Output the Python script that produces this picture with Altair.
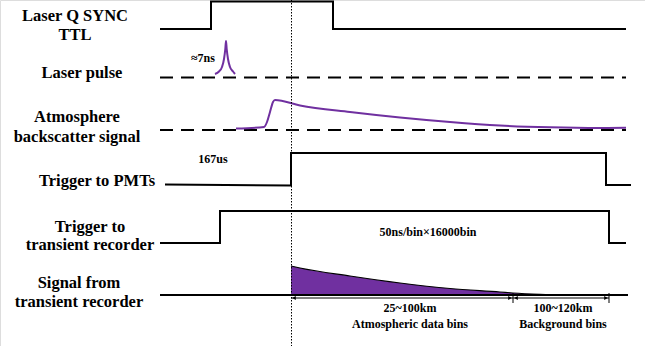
import altair as alt
import pandas as pd

W, H = 645, 346
FONT = "Times New Roman"
FONT2 = "serif"
PURPLE = "#7030A0"

# ---- waveform vertices (diagram units: x = time axis, y = row level, downwards) ----
ttl_x = [160, 211, 211, 333, 333, 626]
ttl_y = [29, 29, 1.5, 1.5, 29, 29]

pmt_x = [165, 291, 291, 606, 606, 631]
pmt_y = [184.6, 185.4, 153, 153, 185, 185]

rec_x = [160, 220, 220, 609, 609, 626]
rec_y = [243, 243, 211, 211, 243, 243]

sig_base_x = [160, 628]
sig_base_y = [295, 295]

# dashed reference levels for the optical rows
ref_x0 = [160, 160]
ref_x1 = [626, 626]
ref_y = [77.5, 130]

# laser pulse (~7 ns)
pulse_x = [215, 219, 222, 224, 225.3, 226, 226.7, 228, 230, 233, 235]
pulse_y = [74, 71.5, 67, 59, 49, 41, 49, 59, 67, 71.5, 74]

# atmosphere backscatter signal
atm_x = [236, 264, 267, 270, 273, 275, 300, 350, 400, 450, 500, 550, 600, 626]
atm_y = [128.5, 127, 122, 112, 102, 100, 105.5, 112, 117.5, 122, 125.5, 127.3, 128, 127.8]

# recorded signal envelope
rec_sig_x = [291, 300, 350, 400, 450, 500, 513, 540, 570]
rec_sig_y = [266, 268, 276, 283, 288.5, 292, 293, 294.3, 295]

# trigger time marker
marker_x = 291.5

# range bins
bin_edges = [291, 513, 609]
dim_y = 298

def trace(name, xs, ys):
    return pd.DataFrame({"x": xs, "y": ys, "seg": name, "i": range(len(xs))})

xs = alt.Scale(domain=[0, W], range=[0, W], nice=False, zero=False)
ys = alt.Scale(domain=[0, H], range=[0, H], nice=False, zero=False)
X = lambda f="x": alt.X(f"{f}:Q", scale=xs, axis=None)
Y = lambda f="y": alt.Y(f"{f}:Q", scale=ys, axis=None)

steps = pd.concat([
    trace("ttl", ttl_x, ttl_y),
    trace("pmt", pmt_x, pmt_y),
    trace("rec", rec_x, rec_y),
    trace("base", sig_base_x, sig_base_y),
])
step_layer = alt.Chart(steps).mark_line(color="black", strokeWidth=2, strokeCap="butt", strokeJoin="miter").encode(
    x=X(), y=Y(), detail="seg:N", order="i:Q")

refs = pd.DataFrame({"x": ref_x0, "x2": ref_x1, "y": ref_y})
ref_layer = alt.Chart(refs).mark_rule(color="black", strokeWidth=2, strokeDash=[13, 8]).encode(
    x=X(), x2="x2:Q", y=Y())

optic = pd.concat([trace("pulse", pulse_x, pulse_y), trace("atm", atm_x, atm_y)])
optic_layer = alt.Chart(optic).mark_line(color=PURPLE, strokeWidth=2, interpolate="monotone").encode(
    x=X(), y=Y(), detail="seg:N", order="i:Q")

env = pd.DataFrame({"x": rec_sig_x, "y": rec_sig_y, "y2": [295] * len(rec_sig_x)})
area_layer = alt.Chart(env).mark_area(color=PURPLE, opacity=1, interpolate="monotone").encode(
    x=X(), y=Y(), y2="y2:Q")
env_edge = alt.Chart(env).mark_line(color="black", strokeWidth=1.2, interpolate="monotone").encode(
    x=X(), y=Y())

marker = pd.DataFrame({"x": [marker_x], "y": [0], "y2": [H]})
marker_layer = alt.Chart(marker).mark_rule(color="black", strokeWidth=1, strokeDash=[1.5, 1.5]).encode(
    x=X(), y=Y(), y2="y2:Q")

dim = pd.DataFrame({"x": [bin_edges[0]], "x2": [bin_edges[-1]], "y": [dim_y]})
dim_layer = alt.Chart(dim).mark_rule(color="black", strokeWidth=1).encode(x=X(), x2="x2:Q", y=Y())
ticks = pd.DataFrame({"x": bin_edges[1:], "y": [dim_y - 5] * 2, "y2": [dim_y + 5] * 2})
tick_layer = alt.Chart(ticks).mark_rule(color="black", strokeWidth=1).encode(x=X(), y=Y(), y2="y2:Q")
heads = pd.DataFrame({
    "x": [bin_edges[0] + 3, bin_edges[1] - 3, bin_edges[1] + 3, bin_edges[2] - 3],
    "y": [dim_y] * 4,
    "shape": ["triangle-left", "triangle-right", "triangle-left", "triangle-right"],
})
head_layer = alt.Chart(heads).mark_point(filled=True, color="black", size=18, opacity=1).encode(
    x=X(), y=Y(), shape=alt.Shape("shape:N", scale=None, legend=None))

# ---- row titles ----
row_text = ["Laser Q SYNC", "TTL", "Laser pulse", "Atmosphere", "backscatter signal",
            "Trigger to PMTs", "Trigger to", "transient recorder", "Signal from", "transient recorder"]
row_tx = [75, 75, 82, 77, 77, 97, 90, 90, 79, 79]
row_ty = [16, 35, 73, 117, 137, 181, 227, 245, 283, 302]
rows = pd.DataFrame({"x": row_tx, "y": row_ty, "t": row_text})
row_layer = alt.Chart(rows).mark_text(font=FONT, fontWeight="bold", fontSize=16.5, color="black",
                                      align="center", baseline="middle").encode(x=X(), y=Y(), text="t:N")

note_text = ["≈7ns", "167us", "50ns/bin×16000bin", "25~100km", "Atmospheric data bins",
             "100~120km", "Background bins"]
note_tx = [203, 213, 428, 410, 410, 563, 563]
note_ty = [58, 159, 232, 308, 324, 308, 324]
notes = pd.DataFrame({"x": note_tx, "y": note_ty, "t": note_text})
note_layer = alt.Chart(notes).mark_text(font=FONT2, fontWeight="bold", fontSize=12, color="black",
                                        align="center", baseline="middle").encode(x=X(), y=Y(), text="t:N")

chart = alt.layer(
    ref_layer, area_layer, env_edge, step_layer, optic_layer, marker_layer,
    dim_layer, tick_layer, head_layer, row_layer, note_layer,
).properties(width=W, height=H, padding=0, autosize=alt.AutoSizeParams(type="none")
).configure_view(stroke=None).configure(background="white")

chart.save("out.html", embed_options={"renderer": "svg", "actions": False})
